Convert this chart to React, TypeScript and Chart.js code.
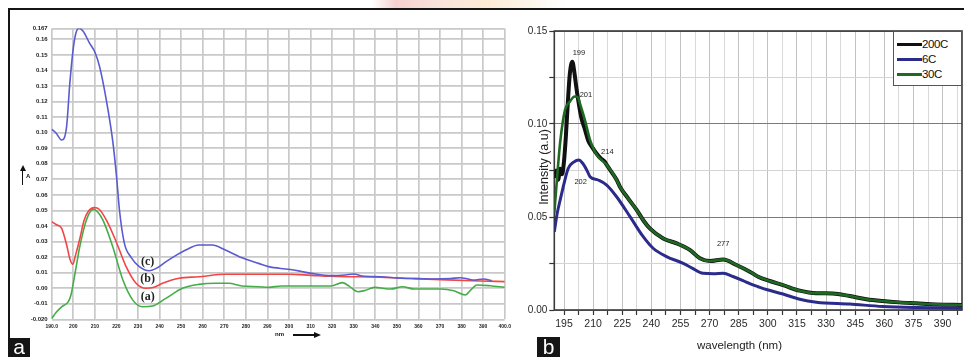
import React, { useEffect, useRef } from "react";
import { Chart, registerables } from "chart.js";

Chart.register(...registerables);
Chart.defaults.font.family = "'Liberation Sans', Arial, sans-serif";

// ---------------- Panel (a) : absorbance ----------------
const aXTicks = [190, 200, 210, 220, 230, 240, 250, 260, 270, 280, 290, 300, 310, 320, 330, 340, 350, 360, 370, 380, 390, 400];
const aYTicks = [-0.02, -0.01, 0, 0.01, 0.02, 0.03, 0.04, 0.05, 0.06, 0.07, 0.08, 0.09, 0.1, 0.11, 0.12, 0.13, 0.14, 0.15, 0.16, 0.167];

// curve (c) – blue
const aNmC = [190, 192, 194.6, 196.9, 198.4, 199.9, 201.2, 202.6, 204.5, 207.6, 210, 212.2, 215.3, 218.4, 220.2, 221.4, 223.7, 226.8, 230.6, 235.2, 239, 243, 248, 252.1, 258.2, 264.4, 270.5, 278.2, 285.9, 290.5, 299.7, 305, 310.4, 319.6, 326, 330, 334, 342.6, 351.8, 360, 367.2, 375, 379.4, 383, 385.6, 390.2, 394];
const aAbsC = [0.1022, 0.0998, 0.0953, 0.1038, 0.1317, 0.1531, 0.1639, 0.1671, 0.1653, 0.1574, 0.1518, 0.1424, 0.121, 0.0934, 0.0696, 0.0503, 0.0289, 0.0199, 0.0139, 0.0113, 0.0132, 0.0171, 0.0215, 0.0246, 0.0278, 0.0278, 0.0246, 0.0196, 0.016, 0.0139, 0.0122, 0.011, 0.0096, 0.0081, 0.0085, 0.0092, 0.0079, 0.0074, 0.0064, 0.0062, 0.006, 0.0063, 0.0068, 0.006, 0.0053, 0.006, 0.0049];

// curve (b) – red
const aNmB = [190, 192, 194.6, 196.9, 198.4, 199.8, 201, 203, 205, 207, 209.8, 212, 215.3, 219.9, 224.5, 229.1, 233.7, 237, 241.4, 249, 258.2, 270.5, 286, 300, 310.4, 319.6, 342.6, 358, 373.3, 388.7, 400];
const aAbsB = [0.0428, 0.041, 0.0385, 0.028, 0.019, 0.0154, 0.021, 0.0317, 0.0435, 0.0495, 0.0518, 0.0508, 0.0439, 0.0299, 0.0139, 0.0032, 0.0, 0.0005, 0.0032, 0.0064, 0.0074, 0.009, 0.009, 0.009, 0.0083, 0.0077, 0.0071, 0.0062, 0.0054, 0.0047, 0.0043];

// curve (a) – green
const aNmA = [190, 192, 194.6, 197.7, 199, 200, 201.5, 203, 206.1, 209.2, 211, 213.7, 218.3, 223, 227.6, 232.2, 236.8, 242.9, 250.6, 258.2, 265.9, 272, 278.2, 285.9, 290.5, 296.6, 319.6, 324.7, 328, 331.9, 335, 339.6, 347.2, 352.6, 358, 370.2, 376.4, 381.7, 384.3, 387.1, 393.2, 400];
const aAbsA = [-0.0195, -0.0155, -0.0119, -0.0086, -0.004, 0.0032, 0.015, 0.0267, 0.0439, 0.0507, 0.0495, 0.0439, 0.0267, 0.0053, -0.0076, -0.0119, -0.0114, -0.0065, 0.0, 0.0025, 0.0032, 0.0032, 0.0015, 0.001, 0.0006, 0.0015, 0.0015, 0.0036, 0.0012, -0.0022, -0.0015, 0.0006, -0.0005, 0.001, -0.0005, -0.0005, -0.0016, -0.0043, -0.001, 0.0021, 0.0016, 0.0006];

const aNotes = [
  { text: "(c)", x: 234.5, y: 0.0171 },
  { text: "(b)", x: 234.5, y: 0.0058 },
  { text: "(a)", x: 234.5, y: -0.0058 },
];

// ---------------- Panel (b) : intensity ----------------
const bXTicks = [195, 202.5, 210, 217.5, 225, 232.5, 240, 247.5, 255, 262.5, 270, 277.5, 285, 292.5, 300, 307.5, 315, 322.5, 330, 337.5, 345, 352.5, 360, 367.5, 375, 382.5, 390, 397.5];
const bYTicks = [0, 0.025, 0.05, 0.075, 0.1, 0.125, 0.15];

const bNm200 = [190, 191, 192, 193, 194, 195, 196, 197, 198, 199.3, 200.3, 201.3, 202.3, 204, 205.8, 207.5, 209.2, 212.6, 214.5, 216, 217, 222.1, 223.8, 228, 232.4, 236, 239.2, 246.1, 253, 259.8, 265, 270.1, 277, 283.8, 290.7, 295, 301, 307.8, 316.4, 325, 333.5, 342.1, 350.7, 359.2, 367.8, 376.4, 386.7, 400];
const bVal200 = [0.071, 0.075, 0.07, 0.076, 0.073, 0.08, 0.094, 0.112, 0.127, 0.1335, 0.128, 0.12, 0.113, 0.103, 0.097, 0.091, 0.088, 0.083, 0.081, 0.0797, 0.078, 0.07, 0.0663, 0.06, 0.0538, 0.048, 0.0439, 0.0385, 0.0358, 0.0323, 0.0278, 0.0263, 0.0272, 0.0242, 0.0206, 0.0179, 0.0156, 0.0134, 0.0104, 0.009, 0.0089, 0.0075, 0.0058, 0.0048, 0.0041, 0.0036, 0.003, 0.0027];

const bNm6 = [190, 191.5, 193, 195, 197.2, 200, 202.7, 204.5, 206.7, 208.4, 212.6, 217, 222.1, 229, 235.8, 240.9, 247.8, 256.4, 261, 266.6, 272, 277, 282, 287.2, 291, 295, 299.3, 307.8, 316.4, 325, 342.1, 359.2, 376.4, 400];
const bVal6 = [0.042, 0.052, 0.059, 0.068, 0.0762, 0.0795, 0.0806, 0.079, 0.0753, 0.0717, 0.0699, 0.0672, 0.0609, 0.0502, 0.0394, 0.0332, 0.0287, 0.0251, 0.0225, 0.0197, 0.0195, 0.0197, 0.018, 0.0158, 0.014, 0.0125, 0.011, 0.0086, 0.0058, 0.0042, 0.0032, 0.0019, 0.0013, 0.0009];

const bNm30 = [190, 191.5, 193, 195.5, 198, 200.5, 202, 203.5, 205.8, 208.4, 210.5, 212.6, 217, 222.1, 223.8, 228, 232.4, 236, 239.2, 246.1, 253, 259.8, 265, 270.1, 277, 283.8, 290.7, 295, 301, 307.8, 316.4, 325, 333.5, 342.1, 350.7, 359.2, 367.8, 376.4, 386.7, 400];
const bVal30 = [0.052, 0.072, 0.09, 0.1075, 0.112, 0.1148, 0.1145, 0.11, 0.102, 0.0914, 0.086, 0.0824, 0.078, 0.07, 0.0663, 0.06, 0.0538, 0.048, 0.0439, 0.0385, 0.0358, 0.0323, 0.0278, 0.0263, 0.0272, 0.0242, 0.0206, 0.0179, 0.0156, 0.0134, 0.0104, 0.009, 0.0089, 0.0075, 0.0058, 0.0048, 0.0041, 0.0036, 0.003, 0.0027];

const bLegend = [
  { label: "200C", color: "#111111" },
  { label: "6C", color: "#2b2b8a" },
  { label: "30C", color: "#1f6a22" },
];

const bNotes = [
  { text: "199", x: 202.7, y: 0.1383 },
  { text: "201", x: 206.3, y: 0.1156 },
  { text: "214", x: 217.3, y: 0.0851 },
  { text: "202", x: 203.6, y: 0.069 },
  { text: "277", x: 277, y: 0.0355 },
];

type Note = { text: string; x: number; y: number };

const pts = (xs: number[], ys: number[]) => xs.map((x, i) => ({ x, y: ys[i] }));

const makeDecor = (frame: { color: string; width: number } | null, notes: Note[], font: string, color: string) => ({
  id: "decor",
  beforeDatasetsDraw(chart: any) {
    if (!frame) return;
    const { ctx, chartArea: a } = chart;
    ctx.save();
    ctx.strokeStyle = frame.color;
    ctx.lineWidth = frame.width;
    ctx.strokeRect(a.left, a.top, a.right - a.left, a.bottom - a.top);
    ctx.restore();
  },
  afterDatasetsDraw(chart: any) {
    const { ctx, scales } = chart;
    ctx.save();
    ctx.font = font;
    ctx.fillStyle = color;
    ctx.textAlign = "center";
    ctx.textBaseline = "middle";
    for (const n of notes) {
      ctx.fillText(n.text, scales.x.getPixelForValue(n.x), scales.y.getPixelForValue(n.y));
    }
    ctx.restore();
  },
});

const lineDs = (label: string, data: any[], color: string, width: number, order: number) => ({
  label,
  data,
  borderColor: color,
  backgroundColor: color,
  borderWidth: width,
  pointRadius: 0,
  fill: false,
  cubicInterpolationMode: "monotone" as const,
  order,
});

const makeA = () => ({
  type: "line" as const,
  data: {
    datasets: [
      lineDs("(a)", pts(aNmA, aAbsA), "#45ad48", 1.6, 3),
      lineDs("(b)", pts(aNmB, aAbsB), "#f24646", 1.6, 2),
      lineDs("(c)", pts(aNmC, aAbsC), "#5a5ad2", 1.6, 1),
    ],
  },
  options: {
    animation: false,
    responsive: false,
    events: [],
    layout: { padding: { top: 16.4, right: 7, left: 0, bottom: 0 } },
    plugins: { legend: { display: false }, tooltip: { enabled: false } },
    scales: {
      x: {
        type: "linear",
        min: 190,
        max: 400,
        afterBuildTicks: (s: any) => { s.ticks = aXTicks.map((v) => ({ value: v })); },
        afterFit: (s: any) => { s.height = 22.6; },
        border: { display: false },
        grid: { color: "#c9c9c9", lineWidth: 1.7, drawTicks: false },
        ticks: {
          autoSkip: false,
          maxRotation: 0,
          padding: 4,
          color: "#222",
          font: { size: 5, weight: "bold" },
          callback: (v: number) => (v === 190 ? "190.0" : v === 400 ? "400.0" : String(v)),
        },
      },
      y: {
        type: "linear",
        min: -0.02,
        max: 0.167,
        afterBuildTicks: (s: any) => { s.ticks = aYTicks.map((v) => ({ value: v })); },
        afterFit: (s: any) => { s.width = 41.7; },
        border: { display: false },
        grid: { color: "#c9c9c9", lineWidth: 1.7, drawTicks: false },
        ticks: {
          autoSkip: false,
          padding: 4,
          color: "#222",
          font: { size: 6, weight: "bold" },
          callback: (v: number) => (v === -0.02 ? "-0.020" : v === 0.167 ? "0.167" : Number(v).toFixed(2)),
        },
      },
    },
  },
  plugins: [makeDecor(null, aNotes, "bold 12px 'Liberation Serif', 'Times New Roman', serif", "#222")],
});

const isMajorX = (v: number) => Math.abs(((v - 195) / 15) - Math.round((v - 195) / 15)) < 1e-6;
const isMajorY = (v: number) => Math.abs(v * 20 - Math.round(v * 20)) < 1e-6;

const makeB = () => ({
  type: "line" as const,
  data: {
    datasets: [
      lineDs("200C", pts(bNm200, bVal200), "#111111", 4, 3),
      lineDs("6C", pts(bNm6, bVal6), "#2b2b8a", 3, 2),
      lineDs("30C", pts(bNm30, bVal30), "#1f6a22", 2.6, 1),
    ],
  },
  options: {
    animation: false,
    responsive: false,
    events: [],
    layout: { padding: { top: 21, right: 2, left: 0, bottom: 0 } },
    plugins: { legend: { display: false }, tooltip: { enabled: false } },
    scales: {
      x: {
        type: "linear",
        min: 190,
        max: 400,
        afterBuildTicks: (s: any) => { s.ticks = bXTicks.map((v) => ({ value: v })); },
        afterFit: (s: any) => { s.height = 47; },
        border: { display: false },
        grid: {
          color: (c: any) => (c.tick && isMajorX(c.tick.value) ? "#c2c2c2" : "#d9d9d9"),
          lineWidth: 1,
          drawTicks: true,
          tickLength: 5,
          tickColor: "#333",
          tickWidth: 1.2,
        },
        ticks: {
          autoSkip: false,
          maxRotation: 0,
          padding: 3,
          color: "#2a2a2a",
          font: { size: 10.5 },
          callback: (v: number) => (isMajorX(v) ? String(v) : ""),
        },
      },
      y: {
        type: "linear",
        min: 0,
        max: 0.15,
        afterBuildTicks: (s: any) => { s.ticks = bYTicks.map((v) => ({ value: v })); },
        afterFit: (s: any) => { s.width = 34.3; },
        border: { display: false },
        grid: {
          color: (c: any) => (c.tick && isMajorY(c.tick.value) ? "#7a7a7a" : "#d4d4d4"),
          lineWidth: 1,
          drawTicks: true,
          tickLength: 5,
          tickColor: "#333",
          tickWidth: 1.2,
        },
        ticks: {
          autoSkip: false,
          padding: 2,
          color: "#2a2a2a",
          font: { size: 10 },
          callback: (v: number) => (isMajorY(v) ? Number(v).toFixed(2) : ""),
        },
      },
    },
  },
  plugins: [makeDecor({ color: "#3a3a3a", width: 1.6 }, bNotes, "7.5px 'Liberation Sans', Arial, sans-serif", "#222")],
});

function ChartCanvas({ make, left, top, width, height }: { make: () => any; left: number; top: number; width: number; height: number }) {
  const ref = useRef<HTMLCanvasElement>(null);
  useEffect(() => {
    const chart = new Chart(ref.current as HTMLCanvasElement, make());
    return () => chart.destroy();
  }, [make]);
  return (
    <canvas
      ref={ref}
      width={width}
      height={height}
      style={{ position: "absolute", left, top, width, height, display: "block" }}
    />
  );
}

const abs = (s: React.CSSProperties): React.CSSProperties => ({ position: "absolute", ...s });

export default function App() {
  return (
    <div
      style={{
        position: "fixed",
        left: 0,
        top: 0,
        width: 964,
        height: 357,
        background: "#ffffff",
        overflow: "hidden",
        fontFamily: "'Liberation Sans', Arial, sans-serif",
      }}
    >
      {/* faint watermark smudge at the top */}
      <div
        style={abs({
          left: 372,
          top: 0,
          width: 195,
          height: 8,
          background:
            "linear-gradient(90deg, rgba(240,160,160,0) 0%, rgba(240,170,170,0.55) 12%, rgba(246,200,185,0.5) 35%, rgba(250,220,180,0.55) 60%, rgba(252,228,190,0) 100%)",
        })}
      />
      {/* outer frame */}
      <div
        style={abs({
          left: 8,
          top: 8,
          width: 956,
          height: 330,
          borderTop: "2px solid #151515",
          borderLeft: "2px solid #151515",
          boxSizing: "border-box",
        })}
      />

      <ChartCanvas make={makeA} left={10} top={12} width={505} height={330} />
      <ChartCanvas make={makeB} left={520} top={10} width={444} height={347} />

      {/* panel a: y axis arrow + A */}
      <div style={abs({ left: 21.8, top: 171, width: 1.6, height: 14, background: "#111" })} />
      <div
        style={abs({
          left: 19.6,
          top: 165,
          width: 0,
          height: 0,
          borderLeft: "3px solid transparent",
          borderRight: "3px solid transparent",
          borderBottom: "6px solid #111",
        })}
      />
      <div style={abs({ left: 26, top: 173, fontSize: 6, fontWeight: "bold", color: "#111", lineHeight: "7px" })}>A</div>

      {/* panel a: x axis "nm" arrow */}
      <div style={abs({ left: 275, top: 331, fontSize: 6, fontWeight: "bold", color: "#111", lineHeight: "7px" })}>nm</div>
      <div style={abs({ left: 293, top: 334.3, width: 22, height: 1.5, background: "#111" })} />
      <div
        style={abs({
          left: 314,
          top: 332,
          width: 0,
          height: 0,
          borderTop: "3px solid transparent",
          borderBottom: "3px solid transparent",
          borderLeft: "7px solid #111",
        })}
      />

      {/* panel b: axis titles */}
      <div
        style={abs({
          left: 544,
          top: 167,
          transform: "translate(-50%, -50%) rotate(-90deg)",
          whiteSpace: "nowrap",
          fontSize: 12.5,
          color: "#222",
          lineHeight: "14px",
        })}
      >
        Intensity (a.u)
      </div>
      <div style={abs({ left: 697, top: 338, fontSize: 11.5, color: "#222", whiteSpace: "nowrap", lineHeight: "14px" })}>
        wavelength (nm)
      </div>

      {/* panel b: legend */}
      <div
        style={abs({
          left: 893,
          top: 31,
          width: 69,
          height: 55,
          border: "1px solid #555",
          background: "#fff",
          boxSizing: "border-box",
        })}
      >
        {bLegend.map((e, i) => (
          <React.Fragment key={e.label}>
            <div style={abs({ left: 3, top: 10.5 + i * 15, width: 25, height: 3, background: e.color })} />
            <div
              style={abs({
                left: 28,
                top: 5 + i * 15,
                fontSize: 11.5,
                color: "#111",
                lineHeight: "14px",
                letterSpacing: "-0.4px",
              })}
            >
              {e.label}
            </div>
          </React.Fragment>
        ))}
      </div>

      {/* panel labels */}
      <div
        style={abs({
          left: 8,
          top: 338,
          width: 22,
          height: 19,
          background: "#151515",
          color: "#fff",
          fontSize: 21,
          lineHeight: "17px",
          textAlign: "center",
        })}
      >
        a
      </div>
      <div
        style={abs({
          left: 537,
          top: 337,
          width: 23,
          height: 20,
          background: "#151515",
          color: "#fff",
          fontSize: 21,
          lineHeight: "19px",
          textAlign: "center",
        })}
      >
        b
      </div>
    </div>
  );
}
